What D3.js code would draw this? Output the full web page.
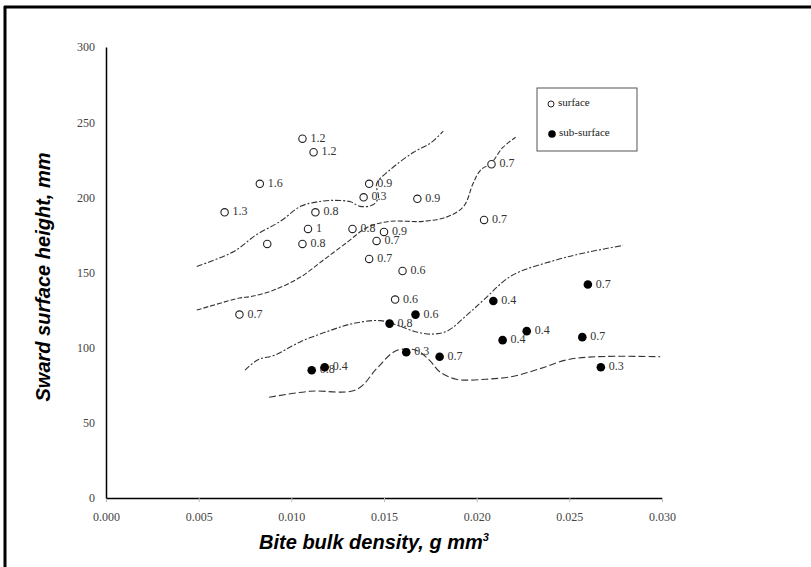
<!DOCTYPE html>
<html>
<head>
<meta charset="utf-8">
<script src="https://cdn.jsdelivr.net/npm/d3@7"></script>
<style>
  body { margin: 0; background: #fff; }
  svg { display: block; }
  .tick text { font-family: "Liberation Serif", serif; fill: #444; }
</style>
</head>
<body>
<svg id="chart" width="811" height="567"></svg>
<script>
// tick values
const xTicks = [0, 0.005, 0.010, 0.015, 0.020, 0.025, 0.030];
const yTicks = [0, 50, 100, 150, 200, 250, 300];

// surface bites (open circles)
const surfaceX = [0.0106, 0.0112, 0.0083, 0.0064, 0.0113, 0.0109, 0.0087, 0.0106, 0.0139, 0.0142,
                  0.0168, 0.0133, 0.0150, 0.0146, 0.0142, 0.0160, 0.0156, 0.0072, 0.0204, 0.0208];
const surfaceY = [239, 230, 209, 190, 190, 179, 169, 169, 200, 209,
                  199, 179, 177, 171, 159, 151, 132, 122, 185, 222];
const surfaceLabel = ['1.2', '1.2', '1.6', '1.3', '0.8', '1', '', '0.8', '0.3', '0.9',
                      '0.9', '0.8', '0.9', '0.7', '0.7', '0.6', '0.6', '0.7', '0.7', '0.7'];

// sub-surface bites (filled circles)
const subX = [0.0111, 0.0118, 0.0153, 0.0167, 0.0162, 0.0180, 0.0209, 0.0214, 0.0227, 0.0257, 0.0267, 0.0260];
const subY = [85, 87, 116, 122, 97, 94, 131, 105, 111, 107, 87, 142];
const subLabel = ['0.8', '0.4', '0.8', '0.6', '0.3', '0.7', '0.4', '0.4', '0.4', '0.7', '0.3', '0.7'];

// hand drawn contour lines
const curveA = [[0.0049, 154], [0.0069, 164], [0.0081, 175], [0.0094, 184], [0.0105, 194], [0.0114, 197],
                [0.0123, 198], [0.0132, 197], [0.0137, 194], [0.0144, 195], [0.0147, 200], [0.0146, 209],
                [0.0153, 218], [0.0166, 230], [0.0175, 236], [0.0182, 244]];
const curveB = [[0.0049, 125], [0.0072, 133], [0.0078, 134], [0.0090, 138], [0.0105, 147], [0.0117, 158],
                [0.0130, 170], [0.0141, 180], [0.0153, 184], [0.0171, 184], [0.0184, 187], [0.0193, 194],
                [0.0198, 209], [0.0202, 218], [0.0208, 223], [0.0214, 233], [0.0221, 240]];
const curveC = [[0.0075, 85], [0.0082, 92], [0.0091, 95], [0.0105, 104], [0.0120, 111], [0.0133, 116],
                [0.0148, 118], [0.0157, 115], [0.0166, 111], [0.0175, 109], [0.0184, 111], [0.0195, 122],
                [0.0204, 132], [0.0219, 148], [0.0242, 158], [0.0258, 163], [0.0279, 168]];
const curveD = [[0.0088, 67], [0.0110, 71], [0.0135, 72], [0.0146, 86], [0.0155, 97], [0.0160, 99],
                [0.0168, 98], [0.0175, 91], [0.0180, 84], [0.0189, 79], [0.0205, 79], [0.0220, 81],
                [0.0234, 86], [0.0249, 92], [0.0265, 94], [0.0299, 94]];

const svg = d3.select('#chart');

const x = d3.scaleLinear().domain([0, 0.030]).range([106, 662]);
const y = d3.scaleLinear().domain([0, 300]).range([498, 47]);

// frame (only top and left edges survive in the scan)
svg.append('line')
  .attr('x1', 4).attr('x2', 811).attr('y1', 7).attr('y2', 7)
  .attr('stroke', '#000').attr('stroke-width', 3);
svg.append('line')
  .attr('x1', 5).attr('x2', 5).attr('y1', 6).attr('y2', 567)
  .attr('stroke', '#000').attr('stroke-width', 3);

// axes
const xAxisG = svg.append('g')
  .attr('transform', `translate(0,${y(0)})`)
  .call(d3.axisBottom(x)
    .tickValues(xTicks)
    .tickFormat(d3.format('.3f'))
    .tickSize(4)
    .tickSizeOuter(0)
    .tickPadding(10));
xAxisG.select('.domain').attr('stroke', '#000').attr('stroke-width', 1.5);
xAxisG.selectAll('.tick line').attr('stroke', '#bbb');
xAxisG.selectAll('.tick text').attr('font-size', 12);

const yAxisG = svg.append('g')
  .attr('transform', `translate(${x(0)},0)`)
  .call(d3.axisLeft(y)
    .tickValues(yTicks)
    .tickSize(0)
    .tickSizeOuter(0)
    .tickPadding(11));
yAxisG.select('.domain').attr('stroke', '#000').attr('stroke-width', 1.5);
yAxisG.selectAll('.tick text').attr('font-size', 12);

// axis titles
svg.append('text')
  .attr('x', 374).attr('y', 549)
  .attr('text-anchor', 'middle')
  .attr('font-family', '"Liberation Sans", Arial, sans-serif')
  .attr('font-weight', 'bold')
  .attr('font-style', 'italic')
  .attr('font-size', 20)
  .text('Bite bulk density, g mm')
  .append('tspan')
    .attr('font-size', 11)
    .attr('dy', -8)
    .text('3');

svg.append('text')
  .attr('transform', 'translate(50,277) rotate(-90)')
  .attr('text-anchor', 'middle')
  .attr('font-family', '"Liberation Sans", Arial, sans-serif')
  .attr('font-weight', 'bold')
  .attr('font-style', 'italic')
  .attr('font-size', 20)
  .text('Sward surface height, mm');

// contour lines
const line = d3.line()
  .x(d => x(d[0]))
  .y(d => y(d[1]))
  .curve(d3.curveCatmullRom.alpha(0.5));

const curves = [
  { pts: curveA, dash: '6,2,2,2' },
  { pts: curveB, dash: '5,2' },
  { pts: curveC, dash: '6,2,2,2' },
  { pts: curveD, dash: '7,3' }
];
svg.selectAll('path.contour').data(curves).enter().append('path')
  .attr('class', 'contour')
  .attr('d', d => line(d.pts))
  .attr('fill', 'none')
  .attr('stroke', '#333')
  .attr('stroke-width', 1.1)
  .attr('stroke-dasharray', d => d.dash);

// points
const surface = surfaceX.map((v, i) => ({ x: v, y: surfaceY[i], label: surfaceLabel[i] }));
const sub = subX.map((v, i) => ({ x: v, y: subY[i], label: subLabel[i] }));

const labelFont = '"Liberation Serif", "Times New Roman", serif';

// labels go under the markers, as in the scan
svg.selectAll('text.plabel').data(surface.concat(sub)).enter().append('text')
  .attr('class', 'plabel')
  .attr('x', d => x(d.x) + 8)
  .attr('y', d => y(d.y) + 3)
  .attr('font-family', labelFont)
  .attr('font-size', 12)
  .attr('fill', '#333')
  .text(d => d.label);

svg.selectAll('circle.surface').data(surface).enter().append('circle')
  .attr('class', 'surface')
  .attr('cx', d => x(d.x))
  .attr('cy', d => y(d.y))
  .attr('r', 3.7)
  .attr('fill', '#fff')
  .attr('stroke', '#222')
  .attr('stroke-width', 1.1);

svg.selectAll('circle.sub').data(sub).enter().append('circle')
  .attr('class', 'sub')
  .attr('cx', d => x(d.x))
  .attr('cy', d => y(d.y))
  .attr('r', 4.3)
  .attr('fill', '#000');

// legend
const legend = svg.append('g');
legend.append('clipPath').attr('id', 'legclip')
  .append('rect').attr('x', 537).attr('y', 88).attr('width', 92).attr('height', 48);
legend.append('rect')
  .attr('x', 537).attr('y', 88).attr('width', 100).attr('height', 63)
  .attr('fill', '#fff').attr('stroke', '#555').attr('stroke-width', 1);
legend.append('circle')
  .attr('cx', 551).attr('cy', 104).attr('r', 3)
  .attr('fill', '#fff').attr('stroke', '#222').attr('stroke-width', 1);
legend.append('text')
  .attr('x', 558).attr('y', 106)
  .attr('font-family', labelFont).attr('font-size', 11).attr('fill', '#222')
  .text('surface');
legend.append('circle')
  .attr('cx', 552).attr('cy', 134).attr('r', 3.8)
  .attr('fill', '#000');
legend.append('text')
  .attr('x', 559).attr('y', 136)
  .attr('clip-path', 'url(#legclip)')
  .attr('font-family', labelFont).attr('font-size', 11).attr('fill', '#222')
  .text('sub-surface');
</script>
</body>
</html>
